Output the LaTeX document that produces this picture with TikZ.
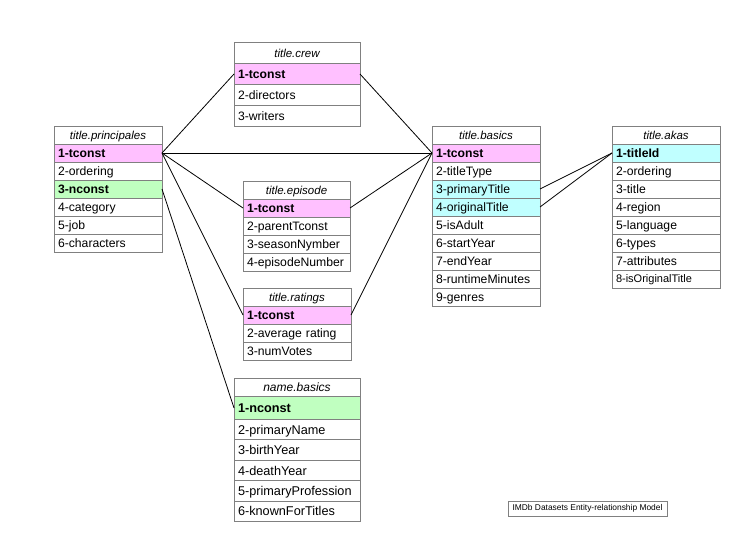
\documentclass[tikz,border=0pt]{standalone}
\usepackage{fontspec}
\setmainfont{Liberation Sans}
\definecolor{bordergray}{RGB}{128,128,128}
\definecolor{pinkk}{RGB}{255,192,255}
\definecolor{greenk}{RGB}{192,255,192}
\definecolor{cyank}{RGB}{192,255,255}
\tikzset{
  cell/.style={draw=bordergray, line width=0.9pt, outer sep=0pt, inner xsep=4pt, inner ysep=0pt,
    anchor=north west, align=left, minimum height=#1, text height=8.7pt, text depth=0pt,
    font=\fontsize{12.2}{14}\selectfont},
  cell/.default=18pt,
  hcell/.style={cell=#1, align=center, font=\fontsize{11.5}{14}\selectfont\itshape},
  hcell/.default=18pt,
  pk/.style={fill=pinkk, font=\fontsize{12.2}{14}\selectfont\bfseries},
  gk/.style={fill=greenk, font=\fontsize{12.2}{14}\selectfont\bfseries},
  ck/.style={fill=cyank},
  cyb/.style={fill=cyank, font=\fontsize{12.2}{14}\selectfont\bfseries},
  nbf/.style={text height=9.2pt, font=\fontsize{12.7}{15}\selectfont},
  nbb/.style={text height=9.2pt, font=\fontsize{12.7}{15}\selectfont\bfseries},
  link/.style={draw=black, line width=0.8pt},
}
\begin{document}
\begin{tikzpicture}[x=1pt,y=-1pt]
\useasboundingbox (0,0) rectangle (756,554);

% title.principales
\begin{scope}[every node/.append style={text width=100pt}]
\node[hcell] (pr) at (54,126) {title.principales};
\node[cell,pk] (pr1) at (pr.south west) {1-tconst};
\node[cell] (pr2) at (pr1.south west) {2-ordering};
\node[cell,gk] (pr3) at (pr2.south west) {3-nconst};
\node[cell] (pr4) at (pr3.south west) {4-category};
\node[cell] (pr5) at (pr4.south west) {5-job};
\node[cell] (pr6) at (pr5.south west) {6-characters};
\end{scope}

% title.crew
\begin{scope}[every node/.append style={text width=118pt}]
\node[hcell=21.5pt] (cr) at (234,42) {title.crew};
\node[cell=21pt,pk] (cr1) at (cr.south west) {1-tconst};
\node[cell=21pt] (cr2) at (cr1.south west) {2-directors};
\node[cell=21pt] (cr3) at (cr2.south west) {3-writers};
\end{scope}

% title.episode
\begin{scope}[every node/.append style={text width=99pt}]
\node[hcell] (ep) at (243,181) {title.episode};
\node[cell,pk] (ep1) at (ep.south west) {1-tconst};
\node[cell] (ep2) at (ep1.south west) {2-parentTconst};
\node[cell] (ep3) at (ep2.south west) {3-seasonNymber};
\node[cell] (ep4) at (ep3.south west) {4-episodeNumber};
\end{scope}

% title.ratings
\begin{scope}[every node/.append style={text width=100pt}]
\node[hcell] (ra) at (243,288) {title.ratings};
\node[cell,pk] (ra1) at (ra.south west) {1-tconst};
\node[cell] (ra2) at (ra1.south west) {2-average rating};
\node[cell] (ra3) at (ra2.south west) {3-numVotes};
\end{scope}

% name.basics
\begin{scope}[every node/.append style={text width=118pt}]
\node[hcell=18.5pt, font=\fontsize{12}{14}\selectfont\itshape] (nb) at (234,378) {name.basics};
\node[cell=23pt,gk,nbb] (nb1) at (nb.south west) {1-nconst};
\node[cell=20.4pt,nbf] (nb2) at (nb1.south west) {2-primaryName};
\node[cell=20.4pt,nbf] (nb3) at (nb2.south west) {3-birthYear};
\node[cell=20.4pt,nbf] (nb4) at (nb3.south west) {4-deathYear};
\node[cell=20.4pt,nbf] (nb5) at (nb4.south west) {5-primaryProfession};
\node[cell=20.4pt,nbf] (nb6) at (nb5.south west) {6-knownForTitles};
\end{scope}

% title.basics
\begin{scope}[every node/.append style={text width=100pt}]
\node[hcell] (ba) at (432,126) {title.basics};
\node[cell,pk] (ba1) at (ba.south west) {1-tconst};
\node[cell] (ba2) at (ba1.south west) {2-titleType};
\node[cell,ck] (ba3) at (ba2.south west) {3-primaryTitle};
\node[cell,ck] (ba4) at (ba3.south west) {4-originalTitle};
\node[cell] (ba5) at (ba4.south west) {5-isAdult};
\node[cell] (ba6) at (ba5.south west) {6-startYear};
\node[cell] (ba7) at (ba6.south west) {7-endYear};
\node[cell] (ba8) at (ba7.south west) {8-runtimeMinutes};
\node[cell] (ba9) at (ba8.south west) {9-genres};
\end{scope}

% title.akas
\begin{scope}[every node/.append style={text width=100pt}]
\node[hcell] (ak) at (612,126) {title.akas};
\node[cell,cyb] (ak1) at (ak.south west) {1-titleId};
\node[cell] (ak2) at (ak1.south west) {2-ordering};
\node[cell] (ak3) at (ak2.south west) {3-title};
\node[cell] (ak4) at (ak3.south west) {4-region};
\node[cell] (ak5) at (ak4.south west) {5-language};
\node[cell] (ak6) at (ak5.south west) {6-types};
\node[cell] (ak7) at (ak6.south west) {7-attributes};
\node[cell, font=\fontsize{11}{13}\selectfont, text height=7.9pt] (ak8) at (ak7.south west) {8-isOriginalTitle};
\end{scope}

% legend
\node[draw=bordergray, line width=0.8pt, minimum width=159pt, minimum height=15pt, inner sep=0pt,
  font=\fontsize{8.4}{10}\selectfont] (lg) at (587.5,508.5) {IMDb Datasets Entity-relationship Model};

% connectors
\draw[link] (pr1.east) -- (cr1.west);
\draw[link] (pr1.east) -- (ba1.west);
\draw[link] (pr1.east) -- (ep1.west);
\draw[link] (pr1.east) -- (ra1.west);
\draw[link] (pr3.east) -- (nb1.west);
\draw[link] (cr1.east) -- (ba1.west);
\draw[link] (ep1.east) -- (ba1.west);
\draw[link] (ra1.east) -- (ba1.west);
\draw[link] (ba3.east) -- (ak1.west);
\draw[link] (ba4.east) -- (ak1.west);
\end{tikzpicture}
\end{document}
